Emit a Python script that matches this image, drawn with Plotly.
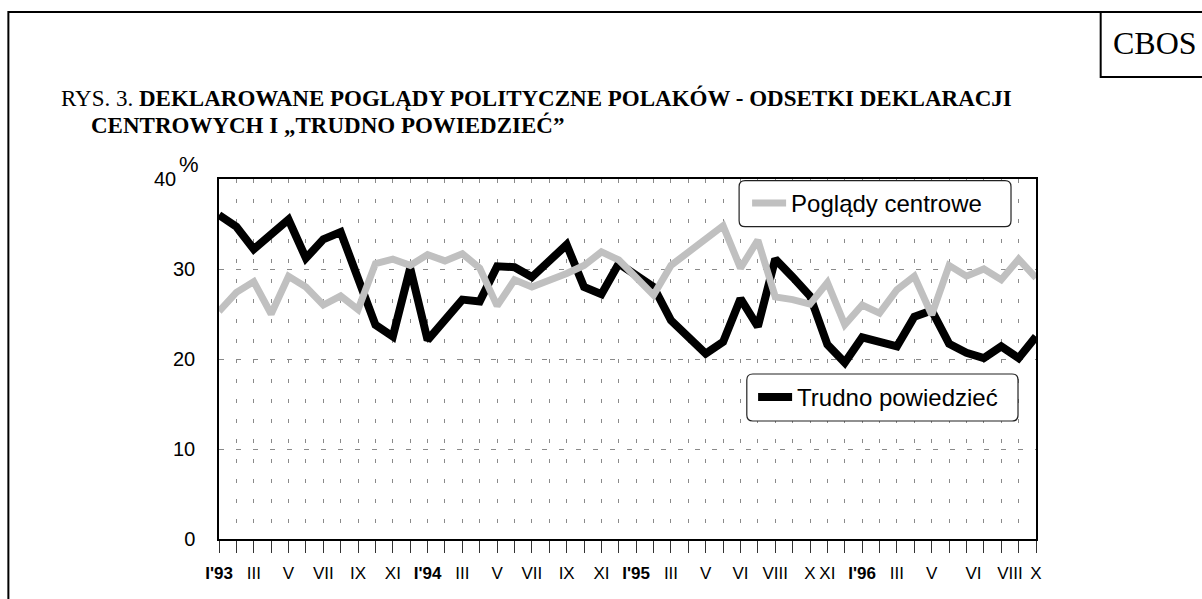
import plotly.graph_objects as go

# ---------------- data ----------------
survey_index = list(range(48))
poglady_centrowe = [25.3, 27.4, 28.6, 25.0, 29.2, 28.0, 26.0, 27.0, 25.5, 30.6,
                    31.1, 30.4, 31.6, 30.9, 31.7, 30.1, 25.9, 28.8, 28.0, 28.7,
                    29.5, 30.4, 31.9, 31.0, 29.1, 27.1, 30.4, 31.9, 33.4, 34.8,
                    30.1, 33.2, 26.9, 26.6, 26.1, 28.5, 23.8, 26.0, 25.1, 27.7,
                    29.2, 24.9, 30.4, 29.2, 30.0, 28.8, 31.1, 29.0]
trudno_powiedziec = [36.0, 34.7, 32.2, 33.9, 35.5, 31.2, 33.3, 34.1, 29.0, 23.8,
                     22.5, 30.1, 22.1, 24.5, 26.6, 26.4, 30.3, 30.2, 29.1, 30.9,
                     32.7, 28.0, 27.2, 30.6, 29.2, 28.0, 24.3, 22.5, 20.6, 21.9,
                     26.7, 23.6, 31.1, 29.1, 27.0, 21.6, 19.6, 22.4, 21.9, 21.4,
                     24.7, 25.4, 21.7, 20.7, 20.1, 21.4, 20.1, 22.5]
tick_positions = [0, 2, 4, 6, 8, 10, 12, 14, 16, 18, 20, 22, 24, 26, 28, 30, 32, 34, 35,
                  37, 39, 41, 43.4, 45.5, 47]
tick_labels = ["<b>I'93</b>", "III", "V", "VII", "IX", "XI", "<b>I'94</b>", "III", "V", "VII",
               "IX", "XI", "<b>I'95</b>", "III", "V", "VI", "VIII", "X", "XI",
               "<b>I'96</b>", "III", "V", "VI", "VIII", "X"]
y_ticks = [0, 10, 20, 30, 40]
y_tick_labels = ["0", "10", "20", "30", ""]

# ---------------- layout geometry (pixels) ----------------
FW, FH = 1202, 599
L, R, T, B = 218.7, 1036.0, 179.0, 539.0
PW, PH = R - L, B - T


def px(xp):
    return (xp - L) / PW


def py(yp):
    return (B - yp) / PH


SANS = "Arial, Liberation Sans, sans-serif"
SERIF = "Times New Roman, Liberation Serif, serif"

fig = go.Figure()
fig.add_trace(go.Scatter(x=survey_index, y=trudno_powiedziec, mode="lines",
                         name="Trudno powiedzieć", legend="legend3",
                         line=dict(color="#000000", width=8)))
fig.add_trace(go.Scatter(x=survey_index, y=poglady_centrowe, mode="lines",
                         name="Poglądy centrowe", legend="legend2",
                         line=dict(color="#c0c0c0", width=7)))
# carrier for the category-label axis (invisible)
fig.add_trace(go.Scatter(x=[tick_positions[0], tick_positions[-1]], y=[0, 0], xaxis="x2",
                         mode="markers", marker=dict(opacity=0), showlegend=False,
                         hoverinfo="skip"))


def rounded(x0, y0, x1, y1, r=6):
    rx, ry = r / PW, r / PH
    a, b, c, d = px(x0), py(y0), px(x1), py(y1)
    return (f"M{a+rx},{b} L{c-rx},{b} Q{c},{b} {c},{b-ry} L{c},{d+ry} Q{c},{d} {c-rx},{d} "
            f"L{a+rx},{d} Q{a},{d} {a},{d+ry} L{a},{b-ry} Q{a},{b} {a+rx},{b} Z")


shapes = [
    dict(type="rect", xref="paper", yref="paper", x0=px(8), x1=px(1220), y0=py(12), y1=py(620),
         line=dict(color="black", width=2), layer="below"),
    dict(type="rect", xref="paper", yref="paper", x0=px(1100.7), x1=px(1220), y0=py(12), y1=py(77),
         line=dict(color="black", width=2), layer="below"),
    dict(type="path", xref="paper", yref="paper", path=rounded(739, 180.7, 1011, 226.7),
         fillcolor="white", line=dict(color="#222", width=1.2), layer="above"),
    dict(type="path", xref="paper", yref="paper", path=rounded(746.7, 374, 1018, 421),
         fillcolor="white", line=dict(color="#222", width=1.2), layer="above"),
]

annotations = [
    dict(xref="paper", yref="paper", x=px(60), y=py(98), xanchor="left", yanchor="middle",
         showarrow=False, font=dict(family=SERIF, size=23, color="black"), borderpad=0,
         text="RYS. 3. <b>DEKLAROWANE POGLĄDY POLITYCZNE POLAKÓW - ODSETKI DEKLARACJI</b>"),
    dict(xref="paper", yref="paper", x=px(90), y=py(125), xanchor="left", yanchor="middle",
         showarrow=False, font=dict(family=SERIF, size=23, color="black"), borderpad=0,
         text="<b>CENTROWYCH I „TRUDNO POWIEDZIEĆ”</b>"),
    dict(xref="paper", yref="paper", x=px(1155), y=py(43), xanchor="center", yanchor="middle",
         showarrow=False, font=dict(family=SERIF, size=32, color="black"), text="CBOS"),
    dict(xref="paper", yref="y", x=px(177), y=40, xanchor="right", yanchor="middle",
         showarrow=False, font=dict(family=SANS, size=20, color="black"), borderpad=0, text="40"),
    dict(xref="paper", yref="paper", x=px(178), y=py(165), xanchor="left", yanchor="middle",
         showarrow=False, font=dict(family=SANS, size=22, color="black"), borderpad=0, text="%"),
]

fig.update_layout(
    width=FW, height=FH, autosize=False,
    margin=dict(l=L, r=FW - R, t=T, b=FH - B, pad=0),
    paper_bgcolor="white", plot_bgcolor="white",
    font=dict(family=SANS, color="black"),
    shapes=shapes, annotations=annotations,
    showlegend=True,
    legend2=dict(x=px(747), y=py(203.5), xanchor="left", yanchor="middle",
                 bgcolor="rgba(0,0,0,0)", borderwidth=0, itemwidth=34,
                 font=dict(family=SANS, size=24, color="black")),
    legend3=dict(x=px(753), y=py(397.5), xanchor="left", yanchor="middle",
                 bgcolor="rgba(0,0,0,0)", borderwidth=0, itemwidth=34,
                 font=dict(family=SANS, size=24, color="black")),
    xaxis=dict(range=[0, 47], tickmode="array", tickvals=survey_index, showticklabels=False,
               ticks="outside", ticklen=12, tickcolor="#333", tickwidth=1,
               showline=True, linecolor="black", linewidth=1.5, mirror=True,
               showgrid=True, gridcolor="#8a8a8a", gridwidth=1, griddash="4px,16px",
               zeroline=False, fixedrange=True),
    xaxis2=dict(range=[0, 47], overlaying="x", anchor="y", side="bottom",
                tickmode="array", tickvals=tick_positions, ticktext=tick_labels,
                ticks="", showline=False, showgrid=False, zeroline=False,
                ticklabelstandoff=22, tickfont=dict(family=SANS, size=17, color="black"),
                fixedrange=True),
    yaxis=dict(range=[0, 40], tickmode="array", tickvals=y_ticks, ticktext=y_tick_labels,
               ticks="", showline=True, linecolor="black", linewidth=1.5, mirror=True,
               showgrid=True, gridcolor="#8a8a8a", gridwidth=1, griddash="5px,12px",
               zeroline=False, ticklabelstandoff=18,
               tickfont=dict(family=SANS, size=20, color="black"), fixedrange=True),
)

fig.write_html("out.html", config={"displayModeBar": False},
               post_script="document.body.style.margin='0';document.body.style.overflow='hidden';")
